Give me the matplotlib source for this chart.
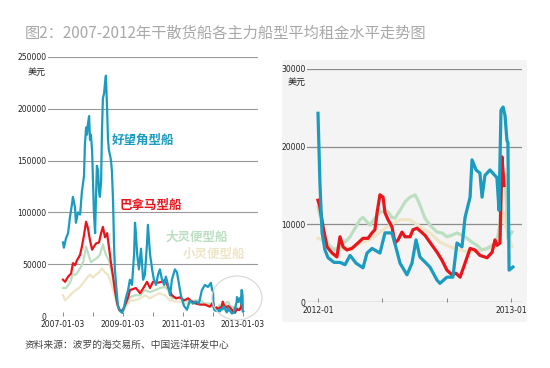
import matplotlib.pyplot as plt
from matplotlib.patches import Ellipse, FancyBboxPatch

plt.rcParams['font.family'] = ['Noto Sans CJK SC', 'DejaVu Sans']

# ---- data (USD/day), time as decimal years ----
# 2007-2011 (left chart)
cape_t = [2007.00, 2007.03, 2007.10, 2007.17, 2007.23, 2007.30, 2007.33, 2007.40, 2007.43, 2007.50,
          2007.57, 2007.63, 2007.70, 2007.73, 2007.77, 2007.80, 2007.83, 2007.87, 2007.90, 2007.93,
          2007.97, 2008.00, 2008.03, 2008.07, 2008.10, 2008.13, 2008.17, 2008.20, 2008.23, 2008.27,
          2008.30, 2008.33, 2008.37, 2008.40, 2008.43, 2008.47, 2008.50, 2008.53, 2008.57, 2008.60,
          2008.63, 2008.67, 2008.70, 2008.73, 2008.77, 2008.83, 2008.90, 2008.97, 2009.03, 2009.10,
          2009.17, 2009.23, 2009.30, 2009.37, 2009.40, 2009.43, 2009.47, 2009.53, 2009.60, 2009.67,
          2009.73, 2009.80, 2009.83, 2009.90, 2009.97, 2010.03, 2010.10, 2010.17, 2010.23, 2010.30,
          2010.37, 2010.43, 2010.50, 2010.57, 2010.63, 2010.73, 2010.80, 2010.87, 2010.93, 2011.03,
          2011.13, 2011.23, 2011.33, 2011.43, 2011.53, 2011.63, 2011.73, 2011.83, 2011.93, 2011.97]
cape_v = [71, 66, 75, 80, 95, 108, 115, 105, 90, 100,
          98, 120, 135, 165, 182, 175, 185, 193, 170, 175,
          160, 130, 100, 80, 115, 145, 140, 120, 115, 130,
          180, 210, 215, 225, 232, 200, 170, 160, 155, 150,
          140, 110, 70, 45, 30, 10, 5, 3, 8, 18,
          25, 35, 30, 60, 90, 80, 60, 45, 65, 35,
          40, 70, 88, 60, 45, 35, 30, 40, 45, 35,
          30, 38, 30, 20, 35, 45, 42, 30, 20, 10,
          6, 15, 12, 14, 12, 25, 30, 28, 32, 25]

pana_t = [2007.00, 2007.07, 2007.17, 2007.27, 2007.33, 2007.40, 2007.47, 2007.57, 2007.63, 2007.70,
          2007.77, 2007.83, 2007.90, 2007.97, 2008.03, 2008.10, 2008.20, 2008.27, 2008.33, 2008.40,
          2008.47, 2008.53, 2008.60, 2008.67, 2008.73, 2008.80, 2008.87, 2008.93, 2009.00, 2009.10,
          2009.17, 2009.23, 2009.33, 2009.43, 2009.57, 2009.70, 2009.80, 2009.90, 2010.00, 2010.13,
          2010.30, 2010.40, 2010.50, 2010.63, 2010.77, 2010.90, 2011.03, 2011.17, 2011.30, 2011.43,
          2011.57, 2011.73, 2011.90]
pana_v = [35, 33, 38, 41, 51, 49, 54, 59, 67, 78,
          91, 85, 73, 64, 67, 70, 71, 80, 86, 76,
          80, 67, 51, 38, 25, 13, 6, 5, 6, 13,
          18, 25, 26, 27, 22, 28, 33, 27, 33, 32,
          33, 35, 28, 20, 17, 18, 15, 17, 14, 12,
          11, 11, 9]

supra_t = [2007.00, 2007.10, 2007.23, 2007.33, 2007.43, 2007.57, 2007.67, 2007.77, 2007.83, 2007.93,
           2008.03, 2008.13, 2008.23, 2008.33, 2008.43, 2008.53, 2008.63, 2008.73, 2008.83, 2008.93,
           2009.03, 2009.13, 2009.23, 2009.40, 2009.57, 2009.73, 2009.90, 2010.07, 2010.23, 2010.40,
           2010.50, 2010.63, 2010.77, 2010.90, 2011.07, 2011.23, 2011.40, 2011.57, 2011.73, 2011.90]
supra_v = [27, 27, 32, 40, 40, 46, 52, 67, 61, 52,
           54, 56, 59, 69, 59, 54, 41, 25, 9, 5,
           6, 13, 18, 20, 20, 25, 23, 25, 27, 28,
           25, 17, 18, 17, 15, 14, 15, 15, 12, 12]

handy_t = [2007.00, 2007.07, 2007.17, 2007.30, 2007.43, 2007.57, 2007.70, 2007.83, 2007.90, 2008.00,
           2008.10, 2008.20, 2008.30, 2008.40, 2008.50, 2008.60, 2008.70, 2008.80, 2008.90, 2009.00,
           2009.10, 2009.23, 2009.40, 2009.57, 2009.73, 2009.90, 2010.07, 2010.23, 2010.40, 2010.57,
           2010.73, 2010.90, 2011.07, 2011.23, 2011.40, 2011.57, 2011.73, 2011.90]
handy_v = [20, 15, 18, 22, 25, 28, 33, 38, 40, 37,
           40, 42, 46, 42, 40, 32, 22, 11, 4, 4,
           9, 15, 15, 17, 20, 17, 20, 22, 20, 15,
           14, 14, 12, 12, 12, 12, 11, 10]

# 2012 detail (right chart, also the tail of the left chart)
cape12_t = [2012.000, 2012.010, 2012.021, 2012.036, 2012.052, 2012.083, 2012.114, 2012.140, 2012.166,
            2012.197, 2012.233, 2012.254, 2012.280, 2012.321, 2012.347, 2012.383, 2012.404, 2012.425,
            2012.461, 2012.487, 2012.508, 2012.528, 2012.580, 2012.617, 2012.632, 2012.668, 2012.699,
            2012.720, 2012.746, 2012.762, 2012.788, 2012.798, 2012.819, 2012.839, 2012.850, 2012.865,
            2012.891, 2012.927, 2012.938, 2012.948, 2012.959, 2012.969, 2012.979, 2012.984, 2012.990,
            2013.010]
cape12_v = [24.3, 15.3, 8.9, 6.7, 5.7, 5.1, 5.1, 4.8, 6.0,
            5.0, 4.4, 6.3, 6.9, 6.3, 8.9, 8.9, 7.0, 5.0,
            3.5, 5.0, 8.0, 5.8, 4.5, 2.8, 2.4, 3.2, 3.2,
            7.6, 7.1, 10.9, 13.5, 18.3, 17.0, 16.6, 13.5, 16.3,
            17.0, 16.0, 11.8, 24.7, 25.1, 24.0, 20.8, 20.5, 4.1,
            4.5]

pana12_t = [2012.000, 2012.010, 2012.026, 2012.047, 2012.073, 2012.098, 2012.114, 2012.130, 2012.150,
            2012.176, 2012.207, 2012.233, 2012.259, 2012.280, 2012.295, 2012.306, 2012.321, 2012.337,
            2012.347, 2012.363, 2012.383, 2012.399, 2012.415, 2012.435, 2012.451, 2012.477, 2012.492,
            2012.513, 2012.554, 2012.591, 2012.617, 2012.642, 2012.668, 2012.694, 2012.715, 2012.736,
            2012.762, 2012.788, 2012.813, 2012.839, 2012.876, 2012.902, 2012.917, 2012.927, 2012.943,
            2012.953, 2012.964]
pana12_v = [13.1, 12.2, 9.7, 7.1, 6.3, 5.8, 8.4, 7.1, 6.7,
            6.9, 7.6, 8.2, 8.2, 8.9, 9.3, 11.5, 13.8, 13.5,
            11.5, 10.6, 9.7, 7.6, 8.0, 9.0, 8.4, 8.4, 9.3,
            9.5, 8.6, 7.3, 6.4, 5.4, 4.1, 3.5, 3.7, 3.2,
            5.0, 6.9, 6.7, 6.0, 5.7, 6.4, 8.0, 7.3, 7.6,
            18.7, 15.0]

supra12_t = [2012.000, 2012.016, 2012.031, 2012.062, 2012.088, 2012.114, 2012.140, 2012.166, 2012.192,
             2012.218, 2012.233, 2012.254, 2012.269, 2012.295, 2012.321, 2012.347, 2012.363, 2012.383,
             2012.399, 2012.425, 2012.451, 2012.477, 2012.503, 2012.518, 2012.539, 2012.554, 2012.580,
             2012.617, 2012.642, 2012.668, 2012.694, 2012.720, 2012.746, 2012.772, 2012.798, 2012.824,
             2012.850, 2012.876, 2012.902, 2012.927, 2012.943, 2012.953, 2012.969, 2012.984, 2013.005]
supra12_v = [12.2, 10.6, 8.4, 7.1, 6.7, 7.1, 7.7, 8.4, 9.5,
             10.6, 10.9, 10.3, 9.9, 10.8, 11.5, 11.8, 11.6, 10.9,
             10.8, 11.8, 12.9, 13.5, 13.8, 13.1, 11.8, 10.8, 9.9,
             9.0, 8.9, 8.4, 8.6, 8.9, 8.6, 8.2, 7.7, 7.3,
             6.7, 6.9, 7.3, 7.7, 10.2, 17.4, 16.3, 8.2, 9.0]

handy12_t = [2012.000, 2012.021, 2012.047, 2012.078, 2012.114, 2012.166, 2012.218, 2012.269, 2012.321,
             2012.373, 2012.425, 2012.477, 2012.528, 2012.580, 2012.632, 2012.684, 2012.736, 2012.788,
             2012.839, 2012.891, 2012.927, 2012.943, 2012.953, 2012.969, 2013.005]
handy12_v = [8.2, 8.0, 7.6, 6.9, 6.7, 6.9, 7.6, 8.0, 9.0,
             9.9, 10.6, 10.6, 9.7, 8.9, 7.7, 7.1, 6.7, 6.4,
             6.7, 6.9, 7.1, 9.0, 12.2, 10.0, 7.1]

left_yticks = [0, 50000, 100000, 150000, 200000, 250000]
left_xticks = [2007, 2008, 2009, 2010, 2011, 2012, 2013]
left_xlabels = ['2007-01-03', '', '2009-01-03', '', '2011-01-03', '', '2013-01-03']
right_yticks = [0, 10000, 20000, 30000]
right_xticks = [2012.0, 2012.333, 2012.667, 2013.0]
right_xlabels = ['2012-01', '', '', '2013-01']

names = ['好望角型船', '巴拿马型船', '大灵便型船', '小灵便型船']
colors = ['#1a9bbf', '#e8161c', '#bcdfc2', '#eee5c6']

TITLE = '图2：2007-2012年干散货船各主力船型平均租金水平走势图'
SOURCE = '资料来源：波罗的海交易所、中国远洋研发中心'

fig = plt.figure(figsize=(5.5, 3.68), dpi=100)
fig.patch.set_facecolor('white')

# right panel background
fig.patches.append(FancyBboxPatch((282 / 550, 1 - 322 / 368), 245 / 550, 262 / 368,
                                  boxstyle='round,pad=0,rounding_size=0.005',
                                  transform=fig.transFigure, facecolor='#f4f4f4',
                                  edgecolor='none', zorder=-2))

fig.text(25 / 550, 1 - 33 / 368, TITLE, fontsize=11, color='#a8a8a8', va='center', ha='left')
fig.text(25 / 550, 1 - 345 / 368, SOURCE, fontsize=7, color='#444444', va='center', ha='left')

tick_font = ['Liberation Sans Narrow', 'DejaVu Sans']


def sci(v):
    return [x * 1000 for x in v]


# ---- left chart ----
ax = fig.add_axes([48 / 550, 1 - 316 / 368, 210 / 550, 259 / 368])
ax.set_facecolor('none')
series = [(cape_t + cape12_t, cape_v + cape12_v),
          (pana_t + pana12_t, pana_v + pana12_v),
          (supra_t + supra12_t, supra_v + supra12_v),
          (handy_t + handy12_t, handy_v + handy12_v)]
for i in [3, 2, 1, 0]:
    t, v = series[i]
    ax.plot(t, sci(v), color=colors[i], lw=1.6, solid_joinstyle='round', zorder=3 + (3 - i))
for y in left_yticks:
    ax.axhline(y, color='#999999', lw=0.8, zorder=1)
ax.set_xlim(2006.5, 2013.5)
ax.set_ylim(0, 250000)
for s in ax.spines.values():
    s.set_visible(False)
ax.set_yticks(left_yticks)
ax.set_yticklabels([str(y) for y in left_yticks], family=tick_font, fontsize=5.5, color='#222222')
ax.tick_params(axis='y', length=0, pad=1)
ax.set_xticks(left_xticks)
ax.set_xticklabels(left_xlabels, family=tick_font, fontsize=5.5, color='#222222')
ax.tick_params(axis='x', direction='in', length=3, width=0.6, color='#777777', pad=3)
fig.text(28 / 550, 1 - 72 / 368, '美元', fontsize=6.5, color='#222222', va='center')

label_pos = [(112, 140), (120, 205), (165, 237), (183, 254)]
for name, c, (px, py) in zip(names, colors, label_pos):
    fig.text(px / 550, 1 - py / 368, name, fontsize=9, color=c, va='center', ha='left',
             fontweight='bold')

fig.patches.append(Ellipse((237 / 550, 1 - 298 / 368), 50 / 550, 44 / 368,
                           transform=fig.transFigure, facecolor='none',
                           edgecolor='#d6d6d6', lw=0.8, zorder=5))

# ---- right chart ----
ax2 = fig.add_axes([307 / 550, 1 - 302 / 368, 215 / 550, 233 / 368])
ax2.set_facecolor('none')
series12 = [(cape12_t, cape12_v), (pana12_t, pana12_v), (supra12_t, supra12_v), (handy12_t, handy12_v)]
for i in [3, 2, 1, 0]:
    t, v = series12[i]
    ax2.plot(t, sci(v), color=colors[i], lw=2.3, solid_joinstyle='round', zorder=3 + (3 - i))
for y in right_yticks:
    ax2.axhline(y, color='#8c8c8c', lw=0.9, zorder=1)
ax2.set_xlim(2011.943, 2013.057)
ax2.set_ylim(0, 30000)
for s in ax2.spines.values():
    s.set_visible(False)
ax2.set_yticks(right_yticks)
ax2.set_yticklabels([str(y) for y in right_yticks], family=tick_font, fontsize=5.5, color='#222222')
ax2.tick_params(axis='y', length=0, pad=1)
ax2.set_xticks(right_xticks)
ax2.set_xticklabels(right_xlabels, family=tick_font, fontsize=5.5, color='#222222')
ax2.tick_params(axis='x', direction='in', length=3, width=0.6, color='#777777', pad=3)
fig.text(288 / 550, 1 - 82 / 368, '美元', fontsize=6.5, color='#222222', va='center')

fig.savefig('out.png', dpi=100)
